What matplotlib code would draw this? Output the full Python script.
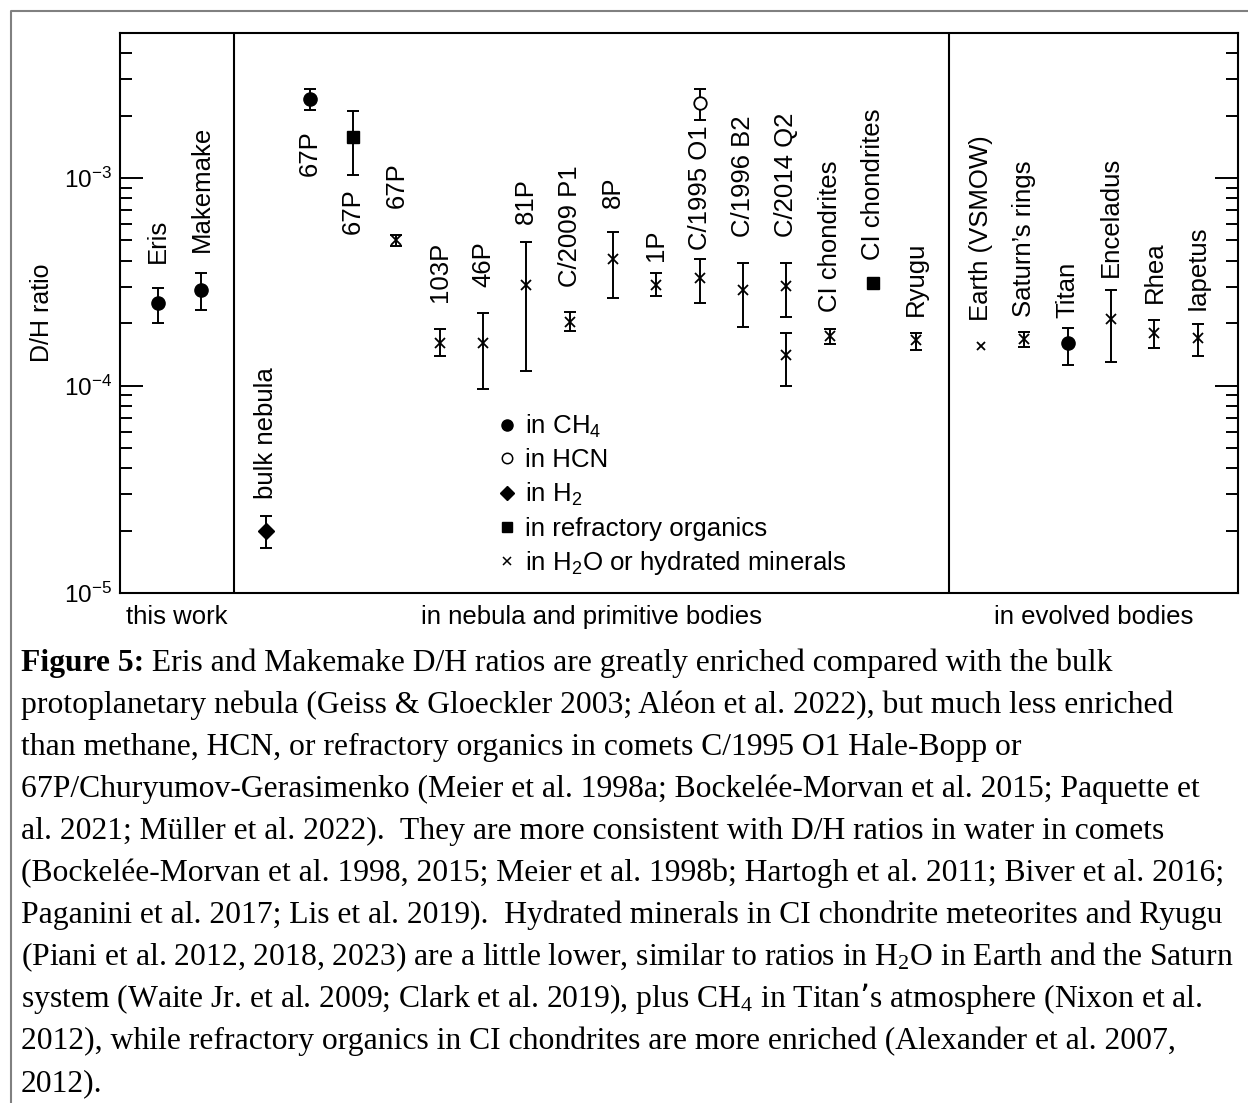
import numpy as np
import matplotlib
matplotlib.use('Agg')
import matplotlib.pyplot as plt
import matplotlib.transforms as mtransforms
from matplotlib.lines import Line2D

plt.rcParams['font.family'] = ['Liberation Sans', 'DejaVu Sans']

# labelled columns, grouped as in the figure
group_names = ['this work', 'in nebula and primitive bodies', 'in evolved bodies']
group_labels = [
    ['Eris', 'Makemake'],
    ['bulk nebula', '67P', '67P', '67P', '103P', '46P', '81P', 'C/2009 P1', '8P',
     '1P', 'C/1995 O1', 'C/1996 B2', 'C/2014 Q2', 'CI chondrites', 'CI chondrites', 'Ryugu'],
    ['Earth (VSMOW)', 'Saturn\u2019s rings', 'Titan', 'Enceladus', 'Rhea', 'Iapetus'],
]

# measurements: column, D/H, error bar low / high (nan = none), carrier
meas_col = [0, 1, 2, 3, 4, 5, 6, 7, 8, 9, 10, 11, 12, 12, 13, 14, 14, 15, 16, 17,
            18, 19, 20, 21, 22, 23]
meas_val = [2.5e-4, 2.9e-4, 2.0e-5, 2.4e-3, 1.57e-3, 5.0e-4, 1.61e-4, 1.61e-4, 3.06e-4, 2.03e-4,
            4.08e-4, 3.06e-4, 2.3e-3, 3.31e-4, 2.9e-4, 3.02e-4, 1.41e-4, 1.74e-4, 3.13e-4, 1.65e-4,
            1.5576e-4, 1.68e-4, 1.6e-4, 2.1e-4, 1.8e-4, 1.7e-4]
meas_lo = [2.0e-4, 2.3e-4, 1.65e-5, 2.12e-3, 1.03e-3, 4.7e-4, 1.38e-4, 9.6e-5, 1.18e-4, 1.84e-4,
           2.65e-4, 2.7e-4, 1.9e-3, 2.5e-4, 1.92e-4, 2.14e-4, 1.0e-4, 1.58e-4, np.nan, 1.49e-4,
           np.nan, 1.53e-4, 1.26e-4, 1.3e-4, 1.52e-4, 1.39e-4]
meas_hi = [2.95e-4, 3.5e-4, 2.35e-5, 2.68e-3, 2.1e-3, 5.3e-4, 1.88e-4, 2.24e-4, 4.92e-4, 2.27e-4,
           5.5e-4, 3.5e-4, 2.7e-3, 4.08e-4, 3.9e-4, 3.9e-4, 1.8e-4, 1.88e-4, np.nan, 1.8e-4,
           np.nan, 1.82e-4, 1.9e-4, 2.9e-4, 2.08e-4, 1.99e-4]
meas_kind = ['CH4', 'CH4', 'H2', 'CH4', 'refr', 'H2O', 'H2O', 'H2O', 'H2O', 'H2O',
             'H2O', 'H2O', 'HCN', 'H2O', 'H2O', 'H2O', 'H2O', 'H2O', 'refr', 'H2O',
             'H2O', 'H2O', 'CH4', 'H2O', 'H2O', 'H2O']

legend_kinds = ['CH4', 'HCN', 'H2', 'refr', 'H2O']
legend_text = [r'in CH$\mathregular{_4}$', 'in HCN', r'in H$\mathregular{_2}$',
               'in refractory organics', r'in H$\mathregular{_2}$O or hydrated minerals']

caption_bold = 'Figure 5:'
caption_lines = [
    ' Eris and Makemake D/H ratios are greatly enriched compared with the bulk',
    'protoplanetary nebula (Geiss & Gloeckler 2003; Al\u00e9on et al. 2022), but much less enriched',
    'than methane, HCN, or refractory organics in comets C/1995 O1 Hale-Bopp or',
    '67P/Churyumov-Gerasimenko (Meier et al. 1998a; Bockel\u00e9e-Morvan et al. 2015; Paquette et',
    'al. 2021; M\u00fcller et al. 2022).  They are more consistent with D/H ratios in water in comets',
    '(Bockel\u00e9e-Morvan et al. 1998, 2015; Meier et al. 1998b; Hartogh et al. 2011; Biver et al. 2016;',
    'Paganini et al. 2017; Lis et al. 2019).  Hydrated minerals in CI chondrite meteorites and Ryugu',
    r'(Piani et al. 2012, 2018, 2023) are a little lower, similar to ratios in H$\mathregular{_2}$O in Earth and the Saturn',
    r'system (Waite Jr. et al. 2009; Clark et al. 2019), plus CH$\mathregular{_4}$ in Titan' + '\u2019s atmosphere (Nixon et al.',
    '2012), while refractory organics in CI chondrites are more enriched (Alexander et al. 2007,',
    '2012).',
]

styles = {
    'CH4': dict(marker='o', ms=9.5, mfc='k', mew=1),
    'HCN': dict(marker='o', ms=9, mfc='white', mew=1.3),
    'H2': dict(marker='D', ms=8, mfc='k', mew=1),
    'refr': dict(marker='s', ms=8.5, mfc='k', mew=1),
    'H2O': dict(marker='x', ms=7, mfc='k', mew=1.3),
}
legend_styles = {
    'CH4': dict(marker='o', ms=8, mfc='k', mew=1),
    'HCN': dict(marker='o', ms=7.5, mfc='white', mew=1.1),
    'H2': dict(marker='D', ms=7, mfc='k', mew=1),
    'refr': dict(marker='s', ms=7, mfc='k', mew=1),
    'H2O': dict(marker='x', ms=6, mfc='k', mew=1.1),
}

W, H = 1248, 1103
fig = plt.figure(figsize=(W / 100, H / 100), dpi=100)
ax = fig.add_axes([120 / W, 1 - 593 / H, 1118 / W, 560 / H])

# column positions with a gap between groups
xpos = []
dividers = []
start = 0.0
for g in group_labels:
    xpos.extend(start + np.arange(len(g)))
    start += len(g) + 0.5
    dividers.append(start - 0.75)
dividers = dividers[:-1]
xpos = np.array(xpos)
labels = [l for g in group_labels for l in g]

val = np.array(meas_val)
lo = np.array(meas_lo)
hi = np.array(meas_hi)
x = xpos[meas_col]

for i in range(len(val)):
    st = styles[meas_kind[i]]
    yerr = None
    if not np.isnan(lo[i]):
        yerr = [[val[i] - lo[i]], [hi[i] - val[i]]]
    ms = st['ms']
    if labels[meas_col[i]].startswith('Earth'):
        ms = 6
    ax.errorbar([x[i]], [val[i]], yerr=yerr, fmt='none', ecolor='k', elinewidth=1.4,
                capsize=4.3, capthick=1.4)
    ax.plot([x[i]], [val[i]], linestyle='none', marker=st['marker'], ms=ms,
            mfc=st['mfc'], mec='k', mew=st['mew'], zorder=3)

# labels next to each column (gap in pixels)
label_pad = [25, 21, 17, 20, 13, 27, 27, 26, 18, 25, 24, 12, 9, 26, 26, 17, 18, 17,
             20, 15, 10, 13, 17, 14]
label_below = [3, 4]
for c, lab in enumerate(labels):
    idx = [i for i in range(len(val)) if meas_col[i] == c and meas_kind[i] != 'HCN']
    if c in label_below:
        i = idx[0]
        y0 = lo[i] if not np.isnan(lo[i]) else val[i]
        ax.annotate(lab, (xpos[c], y0), xytext=(0, -label_pad[c] * 0.72),
                    textcoords='offset points', rotation=90, ha='center', va='top',
                    fontsize=18.5)
    else:
        tops = [hi[i] if not np.isnan(hi[i]) else val[i] for i in idx]
        i = idx[int(np.argmax(tops))]
        extra = 0 if not np.isnan(hi[i]) else 5
        ax.annotate(lab, (xpos[c], max(tops)), xytext=(0, (label_pad[c] + extra) * 0.72),
                    textcoords='offset points', rotation=90, ha='center', va='bottom',
                    fontsize=18.5)

for d in dividers:
    ax.axvline(d, color='k', lw=1.5)

ax.set_yscale('log')
ax.set_ylim(1e-5, 5e-3)
ax.set_xlim(-0.88, 24.93)
ax.set_xticks([])
ax.set_yticks([1e-5, 1e-4, 1e-3])
ax.set_yticklabels([r'$\mathregular{10^{-5}}$', r'$\mathregular{10^{-4}}$',
                    r'$\mathregular{10^{-3}}$'], fontsize=17.5)
ax.tick_params(axis='y', which='both', direction='in', left=True, right=True, width=1.4, pad=6)
ax.tick_params(axis='y', which='major', length=16.5)
ax.tick_params(axis='y', which='minor', length=8.5)
for s in ax.spines.values():
    s.set_linewidth(1.5)
ax.set_ylabel('D/H ratio', fontsize=18)
ax.yaxis.set_label_coords(-0.059, 0.5)

# group names under the axis
bounds = [ax.get_xlim()[0]] + dividers + [ax.get_xlim()[1]]
trans = mtransforms.blended_transform_factory(ax.transData, ax.transAxes)
for k, name in enumerate(group_names):
    ax.text((bounds[k] + bounds[k + 1]) / 2, -0.043, name, transform=trans,
            ha='center', va='center', fontsize=18.5)

handles = [Line2D([], [], linestyle='none', color='k', mec='k', **legend_styles[k])
           for k in legend_kinds]
ax.legend(handles, legend_text, loc='upper left', bbox_to_anchor=(0.337, 0.322),
          frameon=False, fontsize=18.6, handlelength=0.8, handletextpad=0.3,
          labelspacing=0.33, borderpad=0, borderaxespad=0)

# caption
cap_x = 21 / W
cap_size = 22.8
t0 = fig.text(cap_x, 1 - 671 / H, caption_bold, family='Liberation Serif',
              weight='bold', fontsize=cap_size, va='baseline')
ax.annotate(caption_lines[0], xy=(1, 0), xycoords=t0, va='bottom', ha='left',
            family='Liberation Serif', fontsize=cap_size, annotation_clip=False)
for k, line in enumerate(caption_lines[1:]):
    fig.text(cap_x, 1 - (671 + 42 * (k + 1)) / H, line, family='Liberation Serif',
             fontsize=cap_size, va='baseline')

# gray frame (top and left edges visible)
fig.add_artist(Line2D([11 / W, 11 / W, 1], [0, 1 - 11 / H, 1 - 11 / H],
                      color='#808080', lw=1.5, transform=fig.transFigure))

fig.savefig('out.png', dpi=100)
